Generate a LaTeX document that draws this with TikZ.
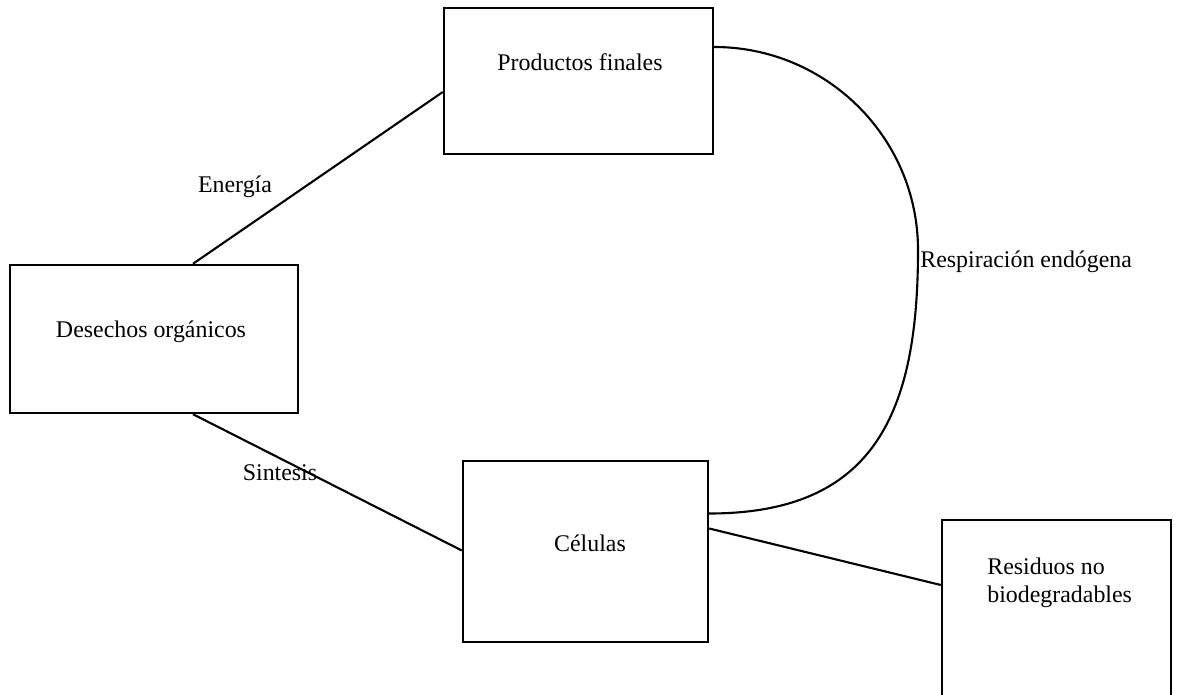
\documentclass[tikz,border=0pt]{standalone}
\usepackage{fontspec}
\setmainfont{Liberation Serif}
\usetikzlibrary{positioning,calc}
\begin{document}
\begin{tikzpicture}[
      x=0.02cm, y=-0.02cm,
      every node/.style={font=\fontsize{13.6}{16}\selectfont},
      box/.style={draw=black,line width=1.4pt,rectangle,inner sep=0pt},
      txt/.style={inner sep=0pt},
      link/.style={draw=black,line width=1.2pt}
    ]
    \clip (0,0) rectangle (1179,695);
    % boxes
    \node[box,minimum width=5.38cm,minimum height=2.92cm] (pf) at (578.5,81) {};
    \node[box,minimum width=5.76cm,minimum height=2.96cm] (do) at (154,339) {};
    \node[box,minimum width=4.90cm,minimum height=3.62cm] (cel) at (585.5,551.5) {};
    \node[box,minimum width=4.58cm,minimum height=4.00cm] (res) at (1056.5,620) {};
    % box texts
    \node[txt] (pftxt) at (580,62) {Productos finales};
    \node[txt] (dotxt) at (151,332) {Desechos orgánicos};
    \node[txt] (celtxt) at (590,543) {Células};
    \node[txt,anchor=west,align=left] (restxt) at (987,583) {Residuos no\\biodegradables};
    % energy and synthesis
    \draw[link] ($(do.north)+(39,0)$) -- ($(pf.west)+(0,11)$);
    \node[txt] (energia) at (235,187) {Energía};
    \draw[link] ($(do.south)+(39,0)$) -- ($(cel.west)+(0,-1)$);
    \node[txt] (sintesis) at (280,473) {Sintesis};
    % endogenous respiration loop
    \coordinate (bulge) at (918,250);
    \draw[link] ($(pf.east)+(0,-34)$) to[out=0,in=90] (bulge)
      to[out=-90,in=0,looseness=1.25] ($(cel.east)+(0,-38)$);
    \node[txt,anchor=west] (resp) at (920,262) {Respiración endógena};
    % non biodegradable residue
    \draw[link] ($(cel.east)+(0,-23)$) -- ($(res.west)+(0,-35)$);
  \end{tikzpicture}
\end{document}
